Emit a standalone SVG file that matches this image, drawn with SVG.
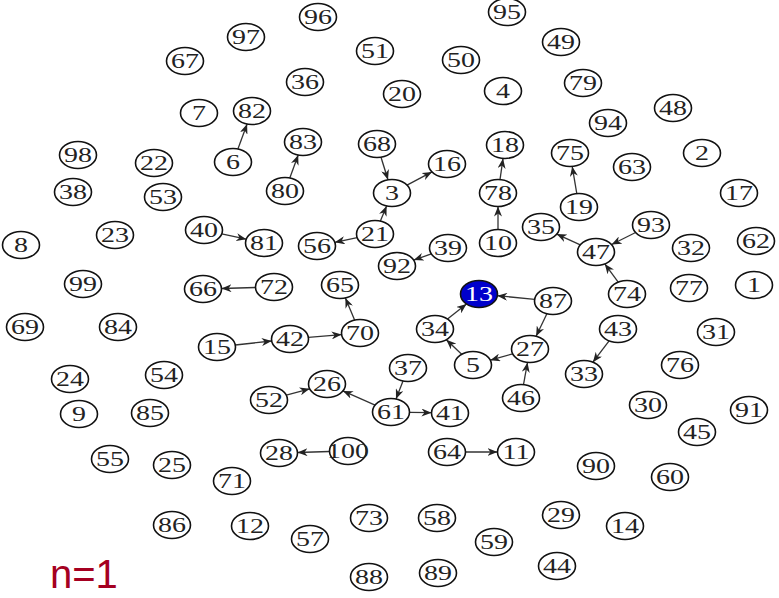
<svg xmlns="http://www.w3.org/2000/svg" width="779" height="598" viewBox="0 0 779 598">
<style>
.n ellipse{fill:#fff;stroke:#111;stroke-width:1.6}
.n text{font-family:"Liberation Serif","Times New Roman",serif;font-size:22px;fill:#222;text-anchor:middle;transform:scale(1.27,1)}
#n13 ellipse{fill:#0000cc}
#n13 text{fill:#fff}
#edges line{stroke:#333;stroke-width:1.3;marker-end:url(#ah)}
.lbl{font-family:"Liberation Sans",Arial,sans-serif;font-size:40px;fill:#a50021}
</style>
<defs>
<marker id="ah" viewBox="0 0 10 8" markerWidth="10" markerHeight="8" refX="10" refY="4" orient="auto" markerUnits="userSpaceOnUse">
<path d="M0,0 L10,4 L0,8 L3,4 z" fill="#222"/>
</marker>
</defs>
<rect width="779" height="598" fill="#fff"/>
<g id="edges">
<line x1="237.9" y1="149.0" x2="247.1" y2="124.0"/>
<line x1="289.8" y1="178.0" x2="298.2" y2="155.0"/>
<line x1="381.0" y1="157.2" x2="388.0" y2="179.8"/>
<line x1="407.0" y1="185.1" x2="432.0" y2="171.9"/>
<line x1="500.0" y1="179.6" x2="503.0" y2="158.6"/>
<line x1="576.8" y1="193.6" x2="572.2" y2="166.4"/>
<line x1="380.4" y1="221.1" x2="386.6" y2="205.9"/>
<line x1="357.2" y1="237.7" x2="334.8" y2="242.3"/>
<line x1="498" y1="229.5" x2="498" y2="206.5"/>
<line x1="221.7" y1="233.8" x2="246.3" y2="239.2"/>
<line x1="431.3" y1="253.9" x2="413.7" y2="260.1"/>
<line x1="635.6" y1="232.5" x2="611.6" y2="244.5"/>
<line x1="580.3" y1="244.9" x2="556.7" y2="234.1"/>
<line x1="618.2" y1="282.1" x2="604.8" y2="263.9"/>
<line x1="255.5" y1="287.5" x2="221.5" y2="288.5"/>
<line x1="534.7" y1="299.3" x2="497.3" y2="295.7"/>
<line x1="546.9" y1="313.7" x2="536.1" y2="336.3"/>
<line x1="447.5" y1="319.1" x2="466.5" y2="304.0"/>
<line x1="354.6" y1="320.1" x2="345.4" y2="297.9"/>
<line x1="308.4" y1="337.4" x2="341.6" y2="334.6"/>
<line x1="235.3" y1="345.0" x2="271.7" y2="341.0"/>
<line x1="461.7" y1="354.3" x2="446.3" y2="339.7"/>
<line x1="512.7" y1="353.8" x2="490.3" y2="360.2"/>
<line x1="609.1" y1="340.8" x2="592.9" y2="362.2"/>
<line x1="523.5" y1="384.6" x2="527.5" y2="362.4"/>
<line x1="403.0" y1="381.0" x2="396.0" y2="399.0"/>
<line x1="375.1" y1="405.1" x2="342.9" y2="390.9"/>
<line x1="286.3" y1="395.2" x2="309.7" y2="388.8"/>
<line x1="409.5" y1="412.3" x2="431.5" y2="412.7"/>
<line x1="329.5" y1="451.5" x2="297.5" y2="452.5"/>
<line x1="465.5" y1="452" x2="497.5" y2="452"/>
</g>
<g class="n" id="n96" transform="translate(318,17)"><ellipse rx="18.5" ry="13.5"/><text y="7">96</text></g>
<g class="n" id="n95" transform="translate(507,12)"><ellipse rx="18.5" ry="13.5"/><text y="7">95</text></g>
<g class="n" id="n97" transform="translate(246,37)"><ellipse rx="18.5" ry="13.5"/><text y="7">97</text></g>
<g class="n" id="n49" transform="translate(561,42)"><ellipse rx="18.5" ry="13.5"/><text y="7">49</text></g>
<g class="n" id="n51" transform="translate(375,51)"><ellipse rx="18.5" ry="13.5"/><text y="7">51</text></g>
<g class="n" id="n67" transform="translate(185,61)"><ellipse rx="18.5" ry="13.5"/><text y="7">67</text></g>
<g class="n" id="n50" transform="translate(461,60)"><ellipse rx="18.5" ry="13.5"/><text y="7">50</text></g>
<g class="n" id="n36" transform="translate(305,82)"><ellipse rx="18.5" ry="13.5"/><text y="7">36</text></g>
<g class="n" id="n79" transform="translate(583,83)"><ellipse rx="18.5" ry="13.5"/><text y="7">79</text></g>
<g class="n" id="n20" transform="translate(402,94)"><ellipse rx="18.5" ry="13.5"/><text y="7">20</text></g>
<g class="n" id="n4" transform="translate(503,91)"><ellipse rx="18.5" ry="13.5"/><text y="7">4</text></g>
<g class="n" id="n48" transform="translate(673,108)"><ellipse rx="18.5" ry="13.5"/><text y="7">48</text></g>
<g class="n" id="n7" transform="translate(199,113)"><ellipse rx="18.5" ry="13.5"/><text y="7">7</text></g>
<g class="n" id="n82" transform="translate(252,111)"><ellipse rx="18.5" ry="13.5"/><text y="7">82</text></g>
<g class="n" id="n94" transform="translate(608,123)"><ellipse rx="18.5" ry="13.5"/><text y="7">94</text></g>
<g class="n" id="n83" transform="translate(303,142)"><ellipse rx="18.5" ry="13.5"/><text y="7">83</text></g>
<g class="n" id="n68" transform="translate(377,144)"><ellipse rx="18.5" ry="13.5"/><text y="7">68</text></g>
<g class="n" id="n18" transform="translate(505,145)"><ellipse rx="18.5" ry="13.5"/><text y="7">18</text></g>
<g class="n" id="n75" transform="translate(570,153)"><ellipse rx="18.5" ry="13.5"/><text y="7">75</text></g>
<g class="n" id="n2" transform="translate(702,153)"><ellipse rx="18.5" ry="13.5"/><text y="7">2</text></g>
<g class="n" id="n98" transform="translate(78,155)"><ellipse rx="18.5" ry="13.5"/><text y="7">98</text></g>
<g class="n" id="n6" transform="translate(233,162)"><ellipse rx="18.5" ry="13.5"/><text y="7">6</text></g>
<g class="n" id="n22" transform="translate(154,163)"><ellipse rx="18.5" ry="13.5"/><text y="7">22</text></g>
<g class="n" id="n16" transform="translate(447,164)"><ellipse rx="18.5" ry="13.5"/><text y="7">16</text></g>
<g class="n" id="n63" transform="translate(632,167)"><ellipse rx="18.5" ry="13.5"/><text y="7">63</text></g>
<g class="n" id="n38" transform="translate(73,192)"><ellipse rx="18.5" ry="13.5"/><text y="7">38</text></g>
<g class="n" id="n53" transform="translate(163,197)"><ellipse rx="18.5" ry="13.5"/><text y="7">53</text></g>
<g class="n" id="n80" transform="translate(285,191)"><ellipse rx="18.5" ry="13.5"/><text y="7">80</text></g>
<g class="n" id="n3" transform="translate(392,193)"><ellipse rx="18.5" ry="13.5"/><text y="7">3</text></g>
<g class="n" id="n78" transform="translate(498,193)"><ellipse rx="18.5" ry="13.5"/><text y="7">78</text></g>
<g class="n" id="n17" transform="translate(739,193)"><ellipse rx="18.5" ry="13.5"/><text y="7">17</text></g>
<g class="n" id="n19" transform="translate(579,207)"><ellipse rx="18.5" ry="13.5"/><text y="7">19</text></g>
<g class="n" id="n35" transform="translate(541,227)"><ellipse rx="18.5" ry="13.5"/><text y="7">35</text></g>
<g class="n" id="n93" transform="translate(651,225)"><ellipse rx="18.5" ry="13.5"/><text y="7">93</text></g>
<g class="n" id="n40" transform="translate(204,230)"><ellipse rx="18.5" ry="13.5"/><text y="7">40</text></g>
<g class="n" id="n21" transform="translate(375,234)"><ellipse rx="18.5" ry="13.5"/><text y="7">21</text></g>
<g class="n" id="n23" transform="translate(115,235)"><ellipse rx="18.5" ry="13.5"/><text y="7">23</text></g>
<g class="n" id="n81" transform="translate(264,243)"><ellipse rx="18.5" ry="13.5"/><text y="7">81</text></g>
<g class="n" id="n56" transform="translate(317,246)"><ellipse rx="18.5" ry="13.5"/><text y="7">56</text></g>
<g class="n" id="n10" transform="translate(498,243)"><ellipse rx="18.5" ry="13.5"/><text y="7">10</text></g>
<g class="n" id="n8" transform="translate(21,245)"><ellipse rx="18.5" ry="13.5"/><text y="7">8</text></g>
<g class="n" id="n39" transform="translate(448,248)"><ellipse rx="18.5" ry="13.5"/><text y="7">39</text></g>
<g class="n" id="n32" transform="translate(691,248)"><ellipse rx="18.5" ry="13.5"/><text y="7">32</text></g>
<g class="n" id="n47" transform="translate(596,252)"><ellipse rx="18.5" ry="13.5"/><text y="7">47</text></g>
<g class="n" id="n62" transform="translate(756,241)"><ellipse rx="18.5" ry="13.5"/><text y="7">62</text></g>
<g class="n" id="n92" transform="translate(397,266)"><ellipse rx="18.5" ry="13.5"/><text y="7">92</text></g>
<g class="n" id="n99" transform="translate(83,284)"><ellipse rx="18.5" ry="13.5"/><text y="7">99</text></g>
<g class="n" id="n1" transform="translate(754,285)"><ellipse rx="18.5" ry="13.5"/><text y="7">1</text></g>
<g class="n" id="n66" transform="translate(203,289)"><ellipse rx="18.5" ry="13.5"/><text y="7">66</text></g>
<g class="n" id="n72" transform="translate(274,287)"><ellipse rx="18.5" ry="13.5"/><text y="7">72</text></g>
<g class="n" id="n65" transform="translate(340,285)"><ellipse rx="18.5" ry="13.5"/><text y="7">65</text></g>
<g class="n" id="n77" transform="translate(689,288)"><ellipse rx="18.5" ry="13.5"/><text y="7">77</text></g>
<g class="n" id="n13" transform="translate(479,294)"><ellipse rx="18.5" ry="13.5"/><text y="7">13</text></g>
<g class="n" id="n74" transform="translate(627,294)"><ellipse rx="18.5" ry="13.5"/><text y="7">74</text></g>
<g class="n" id="n87" transform="translate(553,301)"><ellipse rx="18.5" ry="13.5"/><text y="7">87</text></g>
<g class="n" id="n69" transform="translate(25,327)"><ellipse rx="18.5" ry="13.5"/><text y="7">69</text></g>
<g class="n" id="n84" transform="translate(118,327)"><ellipse rx="18.5" ry="13.5"/><text y="7">84</text></g>
<g class="n" id="n34" transform="translate(435,329)"><ellipse rx="18.5" ry="13.5"/><text y="7">34</text></g>
<g class="n" id="n43" transform="translate(618,329)"><ellipse rx="18.5" ry="13.5"/><text y="7">43</text></g>
<g class="n" id="n31" transform="translate(716,332)"><ellipse rx="18.5" ry="13.5"/><text y="7">31</text></g>
<g class="n" id="n70" transform="translate(360,333)"><ellipse rx="18.5" ry="13.5"/><text y="7">70</text></g>
<g class="n" id="n42" transform="translate(290,339)"><ellipse rx="18.5" ry="13.5"/><text y="7">42</text></g>
<g class="n" id="n15" transform="translate(217,347)"><ellipse rx="18.5" ry="13.5"/><text y="7">15</text></g>
<g class="n" id="n27" transform="translate(530,349)"><ellipse rx="18.5" ry="13.5"/><text y="7">27</text></g>
<g class="n" id="n5" transform="translate(473,365)"><ellipse rx="18.5" ry="13.5"/><text y="7">5</text></g>
<g class="n" id="n37" transform="translate(408,368)"><ellipse rx="18.5" ry="13.5"/><text y="7">37</text></g>
<g class="n" id="n76" transform="translate(680,365)"><ellipse rx="18.5" ry="13.5"/><text y="7">76</text></g>
<g class="n" id="n33" transform="translate(584,374)"><ellipse rx="18.5" ry="13.5"/><text y="7">33</text></g>
<g class="n" id="n24" transform="translate(70,379)"><ellipse rx="18.5" ry="13.5"/><text y="7">24</text></g>
<g class="n" id="n54" transform="translate(164,375)"><ellipse rx="18.5" ry="13.5"/><text y="7">54</text></g>
<g class="n" id="n26" transform="translate(327,384)"><ellipse rx="18.5" ry="13.5"/><text y="7">26</text></g>
<g class="n" id="n46" transform="translate(521,398)"><ellipse rx="18.5" ry="13.5"/><text y="7">46</text></g>
<g class="n" id="n52" transform="translate(269,400)"><ellipse rx="18.5" ry="13.5"/><text y="7">52</text></g>
<g class="n" id="n30" transform="translate(648,405)"><ellipse rx="18.5" ry="13.5"/><text y="7">30</text></g>
<g class="n" id="n91" transform="translate(749,410)"><ellipse rx="18.5" ry="13.5"/><text y="7">91</text></g>
<g class="n" id="n9" transform="translate(79,414)"><ellipse rx="18.5" ry="13.5"/><text y="7">9</text></g>
<g class="n" id="n85" transform="translate(150,413)"><ellipse rx="18.5" ry="13.5"/><text y="7">85</text></g>
<g class="n" id="n61" transform="translate(391,412)"><ellipse rx="18.5" ry="13.5"/><text y="7">61</text></g>
<g class="n" id="n41" transform="translate(450,413)"><ellipse rx="18.5" ry="13.5"/><text y="7">41</text></g>
<g class="n" id="n45" transform="translate(697,432)"><ellipse rx="18.5" ry="13.5"/><text y="7">45</text></g>
<g class="n" id="n28" transform="translate(279,453)"><ellipse rx="18.5" ry="13.5"/><text y="7">28</text></g>
<g class="n" id="n100" transform="translate(348,451)"><ellipse rx="18.5" ry="13.5"/><text y="7">100</text></g>
<g class="n" id="n64" transform="translate(447,452)"><ellipse rx="18.5" ry="13.5"/><text y="7">64</text></g>
<g class="n" id="n11" transform="translate(516,452)"><ellipse rx="18.5" ry="13.5"/><text y="7">11</text></g>
<g class="n" id="n55" transform="translate(110,459)"><ellipse rx="18.5" ry="13.5"/><text y="7">55</text></g>
<g class="n" id="n25" transform="translate(172,465)"><ellipse rx="18.5" ry="13.5"/><text y="7">25</text></g>
<g class="n" id="n90" transform="translate(596,466)"><ellipse rx="18.5" ry="13.5"/><text y="7">90</text></g>
<g class="n" id="n60" transform="translate(670,477)"><ellipse rx="18.5" ry="13.5"/><text y="7">60</text></g>
<g class="n" id="n71" transform="translate(232,481)"><ellipse rx="18.5" ry="13.5"/><text y="7">71</text></g>
<g class="n" id="n29" transform="translate(561,515)"><ellipse rx="18.5" ry="13.5"/><text y="7">29</text></g>
<g class="n" id="n73" transform="translate(369,518)"><ellipse rx="18.5" ry="13.5"/><text y="7">73</text></g>
<g class="n" id="n58" transform="translate(437,518)"><ellipse rx="18.5" ry="13.5"/><text y="7">58</text></g>
<g class="n" id="n86" transform="translate(172,525)"><ellipse rx="18.5" ry="13.5"/><text y="7">86</text></g>
<g class="n" id="n12" transform="translate(250,526)"><ellipse rx="18.5" ry="13.5"/><text y="7">12</text></g>
<g class="n" id="n14" transform="translate(625,526)"><ellipse rx="18.5" ry="13.5"/><text y="7">14</text></g>
<g class="n" id="n57" transform="translate(310,539)"><ellipse rx="18.5" ry="13.5"/><text y="7">57</text></g>
<g class="n" id="n59" transform="translate(494,542)"><ellipse rx="18.5" ry="13.5"/><text y="7">59</text></g>
<g class="n" id="n44" transform="translate(557,566)"><ellipse rx="18.5" ry="13.5"/><text y="7">44</text></g>
<g class="n" id="n89" transform="translate(438,573)"><ellipse rx="18.5" ry="13.5"/><text y="7">89</text></g>
<g class="n" id="n88" transform="translate(369,577)"><ellipse rx="18.5" ry="13.5"/><text y="7">88</text></g>
<text class="lbl" x="50" y="588">n=1</text>
</svg>
